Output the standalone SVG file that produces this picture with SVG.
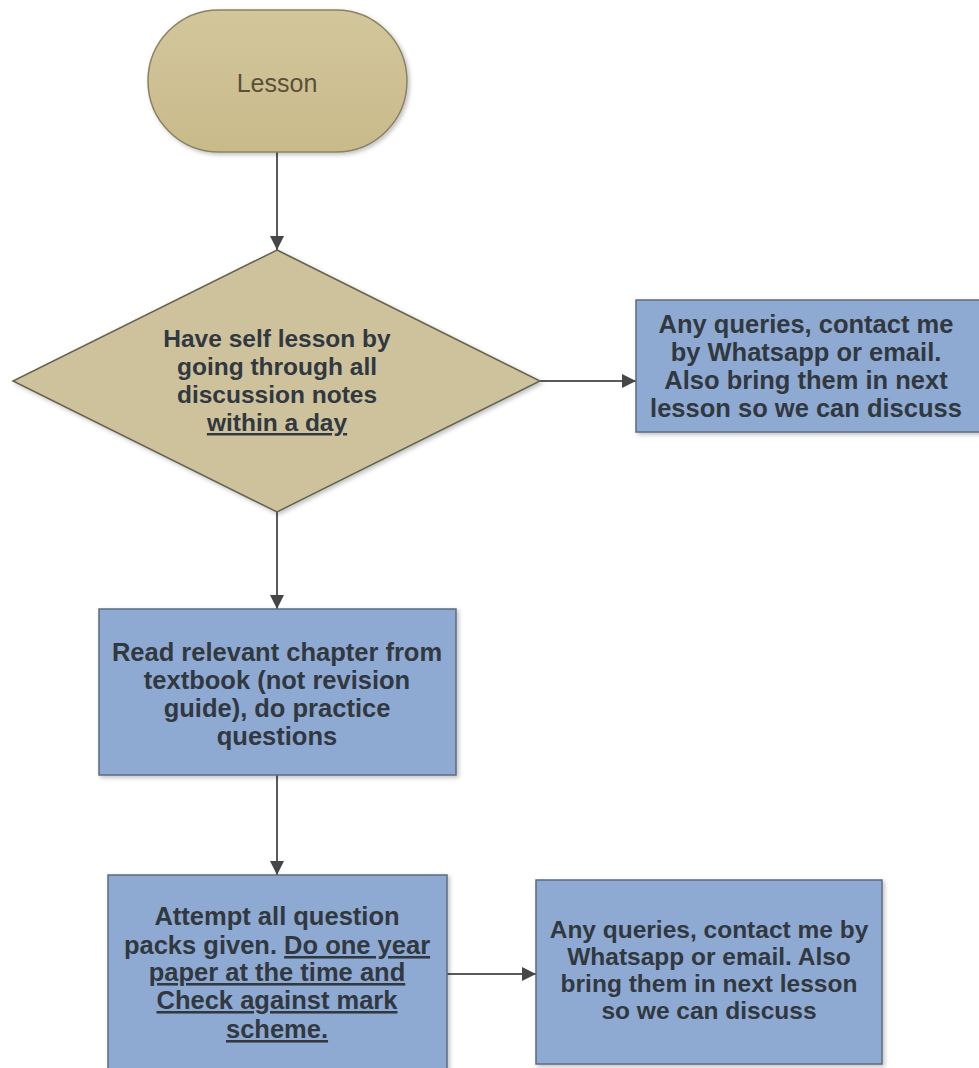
<svg xmlns="http://www.w3.org/2000/svg" width="979" height="1068" viewBox="0 0 979 1068">
<defs>
<linearGradient id="tan" x1="0" y1="0" x2="0" y2="1">
<stop offset="0" stop-color="#d2c69c"/>
<stop offset="1" stop-color="#c9ba8a"/>
</linearGradient>
<filter id="sh" x="-10%" y="-10%" width="125%" height="125%">
<feDropShadow dx="2" dy="2" stdDeviation="2" flood-color="#000" flood-opacity="0.25"/>
</filter>
<marker id="arr" viewBox="0 0 14 14" refX="14" refY="7" markerWidth="14" markerHeight="14" markerUnits="userSpaceOnUse" orient="auto">
<path d="M0,0 L14,7 L0,14 Z" fill="#464646"/>
</marker>
<style>
.t{font-family:"Liberation Sans",Arial,sans-serif;font-weight:bold;text-anchor:middle;fill:#313840}
.blue{fill:#8eaad2;stroke:#5b6b80;stroke-width:1.5}
.tan{fill:#cdc29c;stroke:#65624f;stroke-width:1.5}
.c{stroke:#5a5a5a;stroke-width:2;fill:none;marker-end:url(#arr)}
.u{text-decoration:underline}
</style>
</defs>
<rect width="979" height="1068" fill="#fff"/>
<g id="connectors">
<line class="c" x1="277" y1="152" x2="277" y2="250"/>
<line class="c" x1="540" y1="381" x2="636" y2="381"/>
<line class="c" x1="277" y1="512" x2="277" y2="609"/>
<line class="c" x1="277" y1="775" x2="277" y2="875"/>
<line class="c" x1="447" y1="974" x2="536" y2="974"/>
</g>
<g id="lesson">
<rect x="148" y="10" width="259" height="142" rx="71" ry="71" fill="url(#tan)" stroke="#8a8262" stroke-width="1.5" filter="url(#sh)"/>
<text x="277" y="92" style="font-family:'Liberation Sans',Arial,sans-serif;font-size:25px;text-anchor:middle;fill:#5a5038">Lesson</text>
</g>
<g id="decision">
<polygon class="tan" points="277,250 540,381 277,512 13,381" filter="url(#sh)"/>
<text class="t" font-size="24.5"><tspan x="277" y="347">Have self lesson by</tspan><tspan x="277" y="375">going through all</tspan><tspan x="277" y="403">discussion notes</tspan><tspan x="277" y="431" class="u">within a day</tspan></text>
</g>
<g id="queries1">
<rect class="blue" x="636" y="300" width="345" height="132" filter="url(#sh)"/>
<text class="t" font-size="25.5"><tspan x="806" y="333">Any queries, contact me</tspan><tspan x="806" y="361">by Whatsapp or email.</tspan><tspan x="806" y="389">Also bring them in next</tspan><tspan x="806" y="417">lesson so we can discuss</tspan></text>
</g>
<g id="read">
<rect class="blue" x="99" y="609" width="357" height="166" filter="url(#sh)"/>
<text class="t" font-size="25.5"><tspan x="277" y="661">Read relevant chapter from</tspan><tspan x="277" y="689">textbook (not revision</tspan><tspan x="277" y="717">guide), do practice</tspan><tspan x="277" y="745">questions</tspan></text>
</g>
<g id="attempt">
<rect class="blue" x="108" y="875" width="339" height="200" filter="url(#sh)"/>
<text class="t" font-size="25.5" x="277" y="925">Attempt all question</text>
<text class="t" font-size="25.5" x="277" y="954">packs given. <tspan class="u">Do one year </tspan></text>
<text class="t u" font-size="25.5" x="277" y="981">paper at the time and </text>
<text class="t u" font-size="25.5" x="277" y="1009">Check against mark </text>
<text class="t u" font-size="25.5" x="277" y="1038">scheme.</text>
</g>
<g id="queries2">
<rect class="blue" x="536" y="880" width="346" height="184" filter="url(#sh)"/>
<text class="t" font-size="24.5"><tspan x="709" y="938">Any queries, contact me by</tspan><tspan x="709" y="965">Whatsapp or email. Also</tspan><tspan x="709" y="992">bring them in next lesson</tspan><tspan x="709" y="1019">so we can discuss</tspan></text>
</g>
</svg>
